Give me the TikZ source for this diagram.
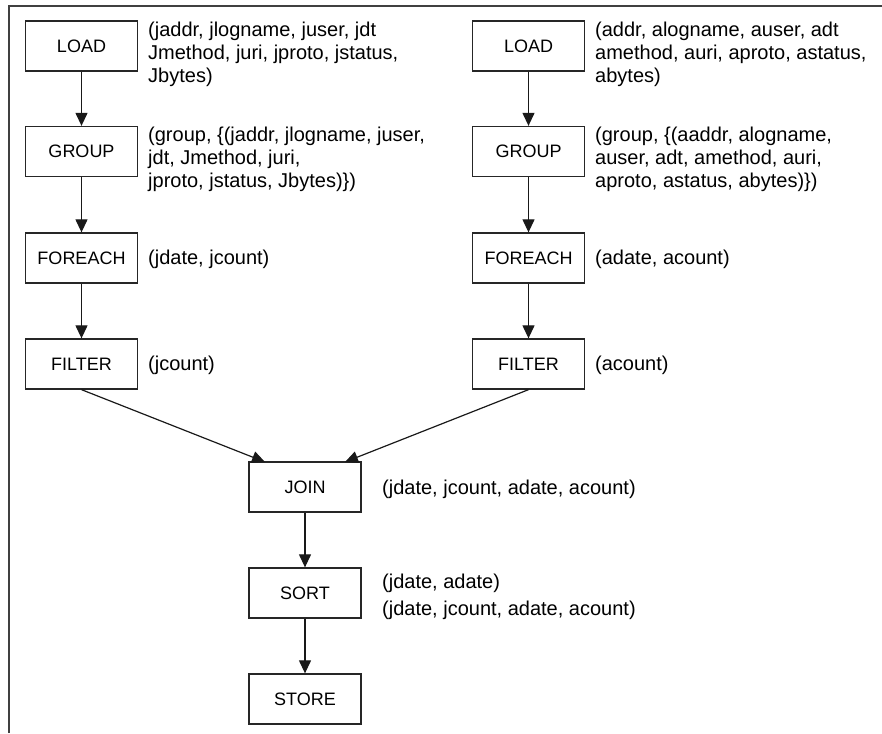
\documentclass[tikz,border=0pt]{standalone}
\usepackage{fontspec}
\setmainfont{Liberation Sans}
\usetikzlibrary{arrows.meta}
\begin{document}
\begin{tikzpicture}[x=1pt,y=-1pt,
 opbox/.style={draw=black!85, line width=1.3pt, minimum width=112pt, minimum height=50pt, inner sep=0pt, font=\fontsize{18}{20}\selectfont},
 lbl/.style={anchor=base west, inner sep=0pt, align=left, font=\fontsize{20}{23}\selectfont},
 flow/.style={-{Triangle[length=13pt,width=12pt]}, line width=1.2pt, draw=black!90}]
\useasboundingbox (0,0) rectangle (882,733);
\draw[line width=1.5pt, black!75] (9,733) -- (9,6) -- (882,6);
% left column
\node[opbox] (jload) at (81.5,46) {LOAD};
\node[opbox] (jgroup) at (81.5,151.5) {GROUP};
\node[opbox] (jforeach) at (81.5,258) {FOREACH};
\node[opbox] (jfilter) at (81.5,364) {FILTER};
% right column
\node[opbox] (aload) at (528.5,46) {LOAD};
\node[opbox] (agroup) at (528.5,151.5) {GROUP};
\node[opbox] (aforeach) at (528.5,258) {FOREACH};
\node[opbox] (afilter) at (528.5,364) {FILTER};
% middle
\node[opbox] (join) at (305,487) {JOIN};
\node[opbox] (sort) at (305,593) {SORT};
\node[opbox] (store) at (305,699) {STORE};
% labels (anchored at the baseline of their last line)
\node[lbl] (jloadl) at (148,83) {(jaddr, jlogname, juser, jdt\\Jmethod, juri, jproto, jstatus,\\Jbytes)};
\node[lbl] (jgroupl) at (148,187) {(group, \{(jaddr, jlogname, juser,\\jdt, Jmethod, juri,\\jproto, jstatus, Jbytes)\})};
\node[lbl] (jforeachl) at (148,264) {(jdate, jcount)};
\node[lbl] (jfilterl) at (148,370) {(jcount)};
\node[lbl] (aloadl) at (595,83) {(addr, alogname, auser, adt\\amethod, auri, aproto, astatus,\\abytes)};
\node[lbl] (agroupl) at (595,187) {(group, \{(aaddr, alogname,\\auser, adt, amethod, auri,\\aproto, astatus, abytes)\})};
\node[lbl] (aforeachl) at (595,264) {(adate, acount)};
\node[lbl] (afilterl) at (595,370) {(acount)};
\node[lbl] (joinl) at (382,494) {(jdate, jcount, adate, acount)};
\node[lbl, font=\fontsize{20}{27}\selectfont] (sortl) at (382,615) {(jdate, adate)\\(jdate, jcount, adate, acount)};
% connectors
\draw[flow] (jload) -- (jgroup);
\draw[flow] (jgroup) -- (jforeach);
\draw[flow] (jforeach) -- (jfilter);
\draw[flow] (aload) -- (agroup);
\draw[flow] (agroup) -- (aforeach);
\draw[flow] (aforeach) -- (afilter);
\coordinate (joinin1) at (265,462);
\coordinate (joinin2) at (345,462);
\draw[flow] (jfilter.south) -- (joinin1);
\draw[flow] (afilter.south) -- (joinin2);
\draw[flow] (join) -- (sort);
\draw[flow] (sort) -- (store);
\end{tikzpicture}
\end{document}
